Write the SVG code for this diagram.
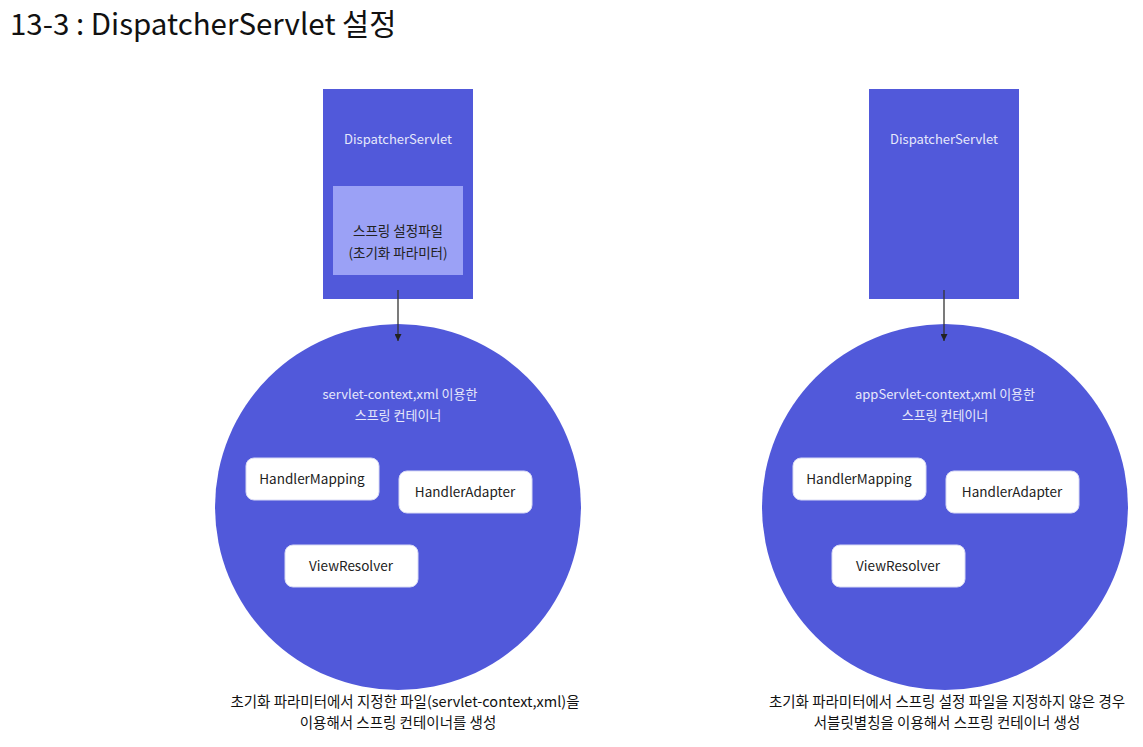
<svg xmlns="http://www.w3.org/2000/svg" width="1143" height="747" viewBox="0 0 1143 747">
<defs>
<marker id="ah" viewBox="0 0 8 8" refX="8" refY="4" markerWidth="7" markerHeight="7" orient="auto" markerUnits="userSpaceOnUse">
<path d="M0,0 L8,4 L0,8 z" fill="#222"/>
</marker>
</defs>
<style>
text{font-family:"Noto Sans CJK KR","Noto Sans",sans-serif;text-anchor:middle}
.blue{fill:#5159da}
.light{fill:#9ba1f6}
.box{fill:#fff;stroke:#d8daf5;stroke-width:1}
.lt{fill:#e6e8fb;font-size:13px}
.dk{fill:#222;font-size:13.5px}
.cap{fill:#111;font-size:14.5px}
.conn{stroke:#333;stroke-width:1.3;fill:none}
</style>
<rect width="1143" height="747" fill="#fff"/>
<text x="10" y="35" style="text-anchor:start;font-size:29.5px;fill:#111">13-3 : DispatcherServlet 설정</text>

<g id="left-servlet">
<rect class="blue" x="323" y="89" width="150" height="210"/>
<text class="lt" x="398" y="144">DispatcherServlet</text>
<rect class="light" x="333" y="186" width="130" height="89"/>
<text class="dk" x="398" y="236">스프링 설정파일</text>
<text class="dk" x="398" y="258">(초기화 파라미터)</text>
</g>
<g id="right-servlet">
<rect class="blue" x="869" y="89" width="150" height="210"/>
<text class="lt" x="944" y="144">DispatcherServlet</text>
</g>

<g id="left-container">
<circle class="blue" cx="398" cy="507" r="183"/>
<text class="lt" x="400" y="399">servlet-context,xml 이용한</text>
<text class="lt" x="398" y="420">스프링 컨테이너</text>
</g>
<g id="left-hm"><rect class="box" x="246" y="458" width="133" height="42" rx="8"/><text class="dk" x="312" y="484">HandlerMapping</text></g>
<g id="left-ha"><rect class="box" x="399" y="471" width="133" height="42" rx="8"/><text class="dk" x="465" y="497">HandlerAdapter</text></g>
<g id="left-vr"><rect class="box" x="285" y="545" width="133" height="42" rx="8"/><text class="dk" x="351" y="571">ViewResolver</text></g>

<g id="right-container">
<circle class="blue" cx="945" cy="507" r="183"/>
<text class="lt" x="945" y="399">appServlet-context,xml 이용한</text>
<text class="lt" x="945" y="420">스프링 컨테이너</text>
</g>
<g id="right-hm"><rect class="box" x="793" y="458" width="133" height="42" rx="8"/><text class="dk" x="859" y="484">HandlerMapping</text></g>
<g id="right-ha"><rect class="box" x="946" y="471" width="133" height="42" rx="8"/><text class="dk" x="1012" y="497">HandlerAdapter</text></g>
<g id="right-vr"><rect class="box" x="832" y="545" width="133" height="42" rx="8"/><text class="dk" x="898" y="571">ViewResolver</text></g>

<g id="connectors">
<line class="conn" x1="398" y1="290" x2="398" y2="341" marker-end="url(#ah)"/>
<line class="conn" x1="944" y1="290" x2="944" y2="341" marker-end="url(#ah)"/>
</g>

<g id="captions">
<text class="cap" x="405" y="707">초기화 파라미터에서 지정한 파일(servlet-context,xml)을</text>
<text class="cap" x="398" y="728">이용해서 스프링 컨테이너를 생성</text>
<text class="cap" x="947" y="707">초기화 파라미터에서 스프링 설정 파일을 지정하지 않은 경우</text>
<text class="cap" x="947" y="728">서블릿별칭을 이용해서 스프링 컨테이너 생성</text>
</g>
</svg>
